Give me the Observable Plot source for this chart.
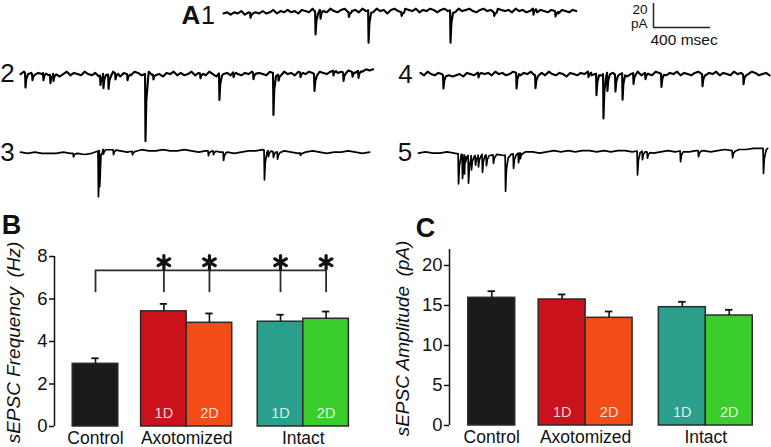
<!DOCTYPE html>
<html><head><meta charset="utf-8">
<script src="https://cdn.jsdelivr.net/npm/d3@7"></script>
<script src="https://cdn.jsdelivr.net/npm/@observablehq/plot@0.6"></script>
<style>
html,body{margin:0;padding:0;background:#fff;}
#fig{position:relative;width:771px;height:447px;overflow:hidden;font-family:"Liberation Sans",Arial,Helvetica,sans-serif;color:#111;}
#fig > svg{position:absolute;}
.lab{position:absolute;transform:translate(-50%,-50%);line-height:1;font-size:26px;white-space:nowrap;}
.lab.b{font-weight:bold;font-size:27px;}
.lab.n{font-family:"Liberation Sans Narrow","Liberation Sans",Arial,sans-serif;font-size:26px;}
.lab.s{font-size:25px;}
</style></head><body><div id="fig"></div>
<script>
// ---------- DATA ----------
// Panel A traces: baseline noise samples (pA) and sEPSC events [time ms, amplitude pA]
const dt1 = 25, dt2 = 25, dt3 = 50, dt4 = 25, dt5 = 50;
const noise1 = [-2,-1,-3,-1,-2,0,-3,-1,-2,-1, -2,0,-2,-1,1,-2,0,-1,1,-1, 0,-2,1,0,-1,2,-1,1,0,-1,
  2,0,-1,1,2,-1,0,1,-1,2, 0,1,-1,2,0,1,-2,1,2,0, -1,2,1,0,2,-1,1,0,2,1, -1,1,2,0,1,-1,2,0,1,2,
  0,-1,1,2,0,1,-1,2,1,0, 1,-1,2,0,1,-1,0,2,-1,1, 0,-1,1,0,-2,1,0,-1,1,0];
const noise2 = [0,2,-1,1,-2,1,0,2,-1,0, 1,-2,0,2,-1,1,0,-1,2,0, -1,1,-2,0,1,-1,2,0,-2,1,
  0,-1,2,1,-1,0,2,-1,1,0, -2,1,0,2,-1,1,-1,0,2,-1, 1,0,-1,2,0,-2,1,0,1,-1, 2,0,-1,1,0,2,-1,1,0,-1,
  2,1,-1,0,2,0,1,-1,2,1, 0,2,1,-1,2,1,0,2,3,1, 2,1,3,2,1,3,2,4,3,4];
const noise3 = [0,-1,0,-1,-1,-1,0,-1,-1,-2, -1,1,3,2,1,0,1,2,1,1, 2,1,1,2,1,0,1,1,0,0,
  -1,0,1,1,2,1,0,1,0,-1, 0,1,0,-1,0,0,1,0,-1,0];
const noise4 = [1,-1,2,0,-1,1,0,-2,-1,-2, -1,0,-2,1,0,-1,1,2,0,1, -1,2,0,1,-1,0,2,1,-1,1,
  0,2,-1,0,1,-1,2,0,-1,1, 0,-2,1,0,-1,1,0,2,-1,0, 1,-1,2,0,1,-1,0,1,-2,0, 1,2,-1,1,0,-1,2,1,0,-1,
  1,0,2,-1,1,0,-1,1,2,0, -1,1,0,2,-1,1,0,-1,2,0, 1,-1,0,2,1,-1,0,1,-1];
const noise5 = [0,1,0,0,1,0,-1,-2,-2,-1, -2,-1,-2,-1,0,1,1,0,1,2, 1,2,1,2,2,1,2,1,2,2,
  1,2,1,0,1,2,1,2,1,2, 2,1,2,3,2,3,3,4,4,4];
const events1 = [[190,4],[646,19],[681,7],[880,4],[1018,27],[1250,3],[1593,27],[1900,3],[2175,5],[2330,4]];
const events2 = [[35,12],[84,5],[161,6],[210,7],[232,6],[561,8],[582,12],[618,12],[667,5],[751,5],[877,56],[933,4],
  [1263,4],[1396,22],[1495,4],[1635,5],[1775,35],[1811,5],[1965,4],[2063,14],[2196,4],[2267,7],[2330,4],[2372,6]];
const events3 = [[372,3],[547,38],[556,30],[582,4],[653,4],[786,3],[1319,4],[1354,3],[1425,7],[1712,25],[1740,5],[1775,5],[1804,6],[1965,2]];
const events4 = [[161,11],[407,4],[674,13],[807,11],[1179,4],[1235,18],[1284,37],[1312,15],[1368,14],[1418,22],[1495,9],[1579,5],[1691,11],[1979,10],[2267,8]];
const events5 = [[281,25],[309,20],[323,16],[351,23],[372,12],[400,8],[421,10],[449,15],[477,9],[526,7],[611,30],[667,12],[702,8],[716,5],
  [1537,20],[1572,7],[1607,5],[1839,9],[1965,5],[2204,6],[2421,21]];
const scaleBarMs = 400, scaleBarPA = 20;

// Panels B and C
const groups = ["Control", "Axotomized", "Intact"];
const conditions = ["Control", "Axotomized 1D", "Axotomized 2D", "Intact 1D", "Intact 2D"];
const conditionGroup = ["Control", "Axotomized", "Axotomized", "Intact", "Intact"];
const subLabels = ["", "1D", "2D", "1D", "2D"];
const freqMean = [2.95, 5.42, 4.88, 4.93, 5.07];
const freqSem = [0.26, 0.35, 0.44, 0.33, 0.34];
const ampMean = [15.96, 15.75, 13.46, 14.79, 13.75];
const ampSem = [0.83, 0.63, 0.79, 0.67, 0.71];
const significant = ["Axotomized 1D", "Axotomized 2D", "Intact 1D", "Intact 2D"];
const freqTicks = [0, 2, 4, 6, 8];
const ampTicks = [0, 5, 10, 15, 20];

// ---------- STYLE / LAYOUT ----------
const barColors = ["#1b1b1b", "#c9121c", "#f34c17", "#2aa08c", "#3bcd2b"];
const slots = [0, 1.5, 2.5, 4.06, 5.06];
const PX_PER_MS = 57 / 400, PX_PER_PA = 24 / 20;
const FONT = '"Liberation Sans", Arial, Helvetica, sans-serif';
const fig = document.getElementById("fig");
const baseStyle = {background: "transparent", overflow: "visible", fontFamily: FONT, color: "#111"};

function place(svg, left, top) {
  svg.style.left = left + "px"; svg.style.top = top + "px";
  fig.appendChild(svg);
}
function label(text, cx, cy, cls) {
  const d = document.createElement("div");
  d.className = "lab" + (cls ? " " + cls : "");
  d.textContent = text; d.style.left = cx + "px"; d.style.top = cy + "px";
  fig.appendChild(d);
}

function buildTrace(noise, dt, events) {
  const pre = 3, post = 18;
  const inWin = t => events.some(([te]) => t >= te - pre && t <= te + post);
  const pts = [];
  noise.forEach((v, i) => { const t = i * dt; if (!inWin(t)) pts.push({t, v}); });
  const base = t => {
    const i = Math.max(0, Math.min(noise.length - 1, t / dt)), i0 = Math.floor(i), i1 = Math.min(noise.length - 1, i0 + 1), f = i - i0;
    return noise[i0] * (1 - f) + noise[i1] * f;
  };
  for (const [te, a] of events) {
    const b = base(te);
    pts.push({t: te - pre, v: b}, {t: te, v: b - a}, {t: te + 6, v: b - a * 0.4}, {t: te + post, v: b - a * 0.08});
  }
  pts.sort((p, q) => p.t - q.t);
  return pts;
}

function trace(noise, dt, events, left, baseY, sw) {
  const dur = (noise.length - 1) * dt;
  const w = dur * PX_PER_MS;
  const yMin = -62, yMax = 8;
  const h = (yMax - yMin) * PX_PER_PA;
  const svg = Plot.plot({
    width: w, height: h, margin: 0,
    x: {domain: [0, dur], axis: null},
    y: {domain: [yMin, yMax], axis: null},
    style: baseStyle,
    marks: [Plot.line(buildTrace(noise, dt, events), {x: "t", y: "v", stroke: "#000", strokeWidth: sw, strokeLinejoin: "round"})]
  });
  place(svg, left, baseY - yMax * PX_PER_PA);
}

// ---------- PANEL A ----------
trace(noise1, dt1, events1, 223, 11, 2.1);
trace(noise2, dt2, events2, 20, 74, 2.1);
trace(noise3, dt3, events3, 20, 152, 1.7);
trace(noise4, dt4, events4, 420, 74, 2.1);
trace(noise5, dt5, events5, 418, 153, 1.7);

label("A", 191, 14.5, "b n");
label("1", 208, 14.5, "s");
label("2", 7.5, 73);
label("3", 7.5, 152);
label("4", 405.5, 74);
label("5", 405, 151.5);

// scale bar
place(Plot.plot({
  width: 171, height: 50,
  marginLeft: 53, marginRight: 171 - 53 - scaleBarMs * PX_PER_MS, marginTop: 3, marginBottom: 50 - 3 - scaleBarPA * PX_PER_PA,
  x: {domain: [0, scaleBarMs], axis: null},
  y: {domain: [0, scaleBarPA], axis: null},
  style: baseStyle,
  marks: [
    Plot.ruleY([0], {x1: 0, x2: scaleBarMs, stroke: "#222", strokeWidth: 1.5}),
    Plot.ruleX([0], {y1: 0, y2: scaleBarPA, stroke: "#222", strokeWidth: 1.5}),
    Plot.text([String(scaleBarPA)], {text: d => d, frameAnchor: "top-left", textAnchor: "end", lineAnchor: "middle", dx: -6, dy: 6.5, fontSize: 13.5}),
    Plot.text(["pA"], {text: d => d, frameAnchor: "top-left", textAnchor: "end", lineAnchor: "middle", dx: -6, dy: 20, fontSize: 13.5}),
    Plot.text([scaleBarMs + " msec"], {text: d => d, frameAnchor: "bottom-left", textAnchor: "start", lineAnchor: "middle", dx: -3, dy: 13, fontSize: 15.5})
  ]
}), 600, 0);

// ---------- PANELS B & C ----------
function rowsFor(means, sems) {
  return conditions.map((c, i) => ({c, group: conditionGroup[i], sub: subLabels[i], mean: means[i], sem: sems[i], color: barColors[i], slot: slots[i]}));
}
const groupRows = groups.map(g => {
  const idx = conditionGroup.map((cg, i) => cg === g ? i : -1).filter(i => i >= 0);
  return {g, center: (slots[idx[0]] + slots[idx[idx.length - 1]] + 1) / 2};
});

function barPanel({means, sems, ticks, yMax, title, width, height, mL, mR, mT, mB, xMax, titleDx, titleDy, extra}) {
  const rows = rowsFor(means, sems);
  return Plot.plot({
    width, height, marginLeft: mL, marginRight: mR, marginTop: mT, marginBottom: mB,
    x: {domain: [-0.4, xMax], axis: null},
    y: {domain: [0, yMax], axis: null},
    color: {type: "identity"},
    style: baseStyle,
    marks: [
      Plot.ruleX([-0.4], {y1: 0, y2: yMax, stroke: "#111", strokeWidth: 1.5}),
      Plot.axisY(ticks, {tickSize: 5, tickPadding: 2, fontSize: 18.5, label: null, stroke: "#111", strokeWidth: 1.5}),
      Plot.text([title], {text: d => d, frameAnchor: "left", textAnchor: "middle", lineAnchor: "middle", rotate: -90, dx: titleDx, dy: titleDy, fontSize: 19, fontStyle: "italic"}),
      Plot.rectY(rows, {x1: "slot", x2: d => d.slot + 1, y: "mean", fill: "color", stroke: "#2b2b2b", strokeWidth: 1.5}),
      Plot.ruleX(rows, {x: d => d.slot + 0.5, y1: "mean", y2: d => d.mean + d.sem, stroke: "#111", strokeWidth: 1.6}),
      Plot.ruleY(rows, {y: d => d.mean + d.sem, x1: d => d.slot + 0.42, x2: d => d.slot + 0.58, stroke: "#111", strokeWidth: 1.8}),
      Plot.text(rows.filter(d => d.sub), {x: d => d.slot + 0.5, text: "sub", frameAnchor: "bottom", lineAnchor: "middle", dy: -13, fill: "white", fillOpacity: 0.85, fontSize: 14.5}),
      Plot.text(groupRows, {x: "center", text: "g", frameAnchor: "bottom", lineAnchor: "middle", dy: 11.5, fontSize: 17.5}),
      ...(extra ? extra(rows) : [])
    ]
  });
}

// B
const bracketY = 7.35, legBottom = 6.3, starY = 7.73;
place(barPanel({
  means: freqMean, sems: freqSem, ticks: freqTicks, yMax: 8, title: "sEPSC Frequency\u2002(Hz)",
  width: 390, height: 211, mL: 54, mR: 17, mT: 20, mB: 21, xMax: 6.6, titleDx: -41, titleDy: 1,
  extra: rows => {
    const ctrl = rows[0];
    const sig = rows.filter(d => significant.includes(d.c));
    const legs = [ctrl, ...sig];
    return [
      Plot.ruleY([bracketY], {x1: ctrl.slot + 0.5, x2: sig[sig.length - 1].slot + 0.5, stroke: "#2b2b2b", strokeWidth: 1.8}),
      Plot.ruleX(legs, {x: d => d.slot + 0.5, y1: legBottom, y2: bracketY, stroke: "#2b2b2b", strokeWidth: 1.8}),
      Plot.dot(sig, {x: d => d.slot + 0.5, y: () => starY, symbol: "asterisk", r: 6.3, stroke: "#111", strokeWidth: 3.2, strokeLinecap: "round"})
    ];
  }
}), 0, 236);
label("B", 11.5, 225, "b");

// C
place(barPanel({
  means: ampMean, sems: ampSem, ticks: ampTicks, yMax: 22, title: "sEPSC Amplitude\u2002(pA)",
  width: 381, height: 211, mL: 59, mR: 7.5, mT: 13, mB: 22, xMax: 6.3, titleDx: -47, titleDy: 1
}), 390, 236);
label("C", 425.5, 228, "b");
</script></body></html>
